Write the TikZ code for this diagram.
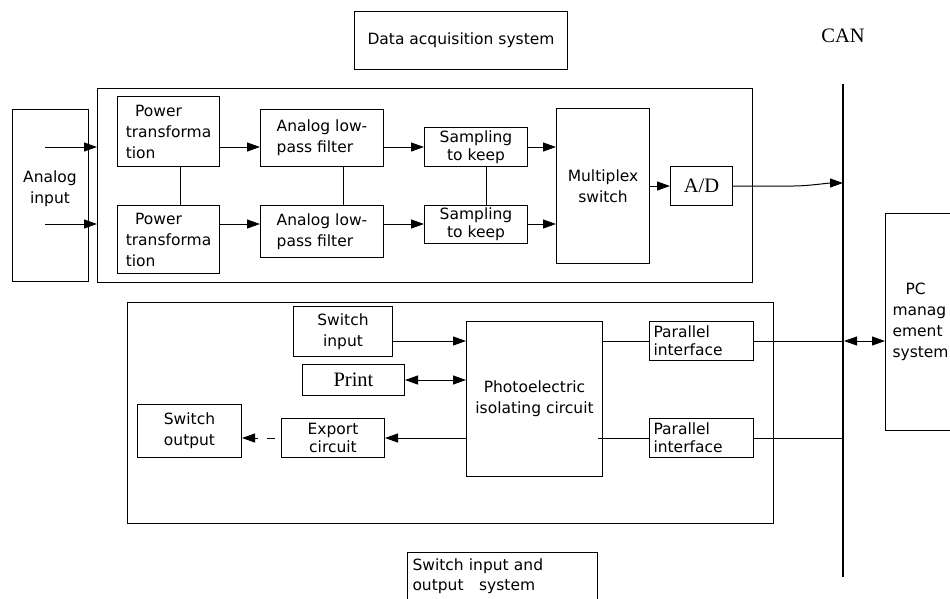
\documentclass[tikz,border=0pt]{standalone}
\usepackage{fontspec}
\setmainfont{DejaVu Sans}
\newfontfamily\timesfont{Liberation Serif}
\usepackage{tikz}
\usetikzlibrary{arrows.meta}
\usetikzlibrary{positioning}
\usetikzlibrary{calc}
\tikzstyle{blk} = [draw, line width=1pt, anchor=north west, inner sep=1pt, font=\fontsize{15.5}{21}\selectfont]
\tikzstyle{frame} = [draw, line width=1pt, anchor=north west, inner sep=0pt]
\tikzstyle{serif} = [font=\timesfont\fontsize{20.5}{22}\selectfont]
\tikzstyle{line} = [line width=1pt]
\tikzstyle{arrow} = [line width=1pt, -{Triangle[length=13pt,width=9pt]}]
\tikzstyle{biarrow} = [line width=1pt, {Triangle[length=13pt,width=9pt]}-{Triangle[length=13pt,width=9pt]}]
\tikzstyle{bus} = [line width=2.6pt]
\begin{document}
\begin{tikzpicture}[x=1pt, y=-1pt]
    \clip (0,0) rectangle (950,598);

    % titles
    \node[blk, minimum width=213, minimum height=58] (acqlbl) at (354,11) {Data acquisition system};
    \node[serif] (can) at (843,36) {CAN};

    % data acquisition part
    \node[frame, minimum width=76, minimum height=172] (ain) at (12,109) {};
    \node[font=\fontsize{15.5}{21}\selectfont, align=center] (aintxt) at (50,189) {Analog\\input};
    \node[frame, minimum width=655, minimum height=194] (acq) at (97,88) {};

    \node[blk, minimum width=102, minimum height=70, align=left] (pt1) at (117,96) {\hspace*{0.6em}Power\\transforma\\tion};
    \node[blk, minimum width=102, minimum height=68, align=left] (pt2) at (117,205) {\hspace*{0.6em}Power\\transforma\\tion};
    \node[blk, minimum width=123, minimum height=57, align=left] (lpf1) at (260,109) {Analog low-\\pass filter};
    \node[blk, minimum width=123, minimum height=52, align=left] (lpf2) at (260,205) {Analog low-\\pass filter};
    \node[blk, minimum width=103, minimum height=39, align=center, inner sep=0pt] (sh1) at (424,127) {Sampling\\[-3pt]to keep};
    \node[blk, minimum width=103, minimum height=38, align=center, inner sep=0pt] (sh2) at (424,205) {Sampling\\[-3pt]to keep};
    \node[blk, minimum width=93, minimum height=155, align=center] (mux) at (556,108) {Multiplex\\switch};
    \node[blk, serif, minimum width=62, minimum height=39] (ad) at (670,166) {A/D};

    \coordinate (in1) at (45,147);
    \coordinate (in2) at (45,224);
    \draw[arrow] (in1) -- (in1 -| acq.west);
    \draw[arrow] (in2) -- (in2 -| acq.west);
    \draw[arrow] (pt1.east |- in1) -- (lpf1.west |- in1);
    \draw[arrow] (pt2.east |- in2) -- (lpf2.west |- in2);
    \draw[arrow] (lpf1.east |- in1) -- (sh1.west |- in1);
    \draw[arrow] (lpf2.east |- in2) -- (sh2.west |- in2);
    \draw[arrow] (sh1.east |- in1) -- (mux.west |- in1);
    \draw[arrow] (sh2.east |- in2) -- (mux.west |- in2);
    \draw[line] ([xshift=12pt]pt1.south) -- ([xshift=12pt]pt2.north);
    \draw[line] ([xshift=21.5pt]lpf1.south) -- ([xshift=21.5pt]lpf2.north);
    \draw[line] ([xshift=10.5pt]sh1.south) -- ([xshift=10.5pt]sh2.north);
    \draw[arrow] (mux.east |- ad) -- (ad.west);

    % CAN bus and PC
    \coordinate (bustop) at (843,84);
    \coordinate (busbot) at (843,577);
    \draw[bus] (bustop) -- (busbot);
    \coordinate (adin) at (843,183);
    \draw[arrow] (ad.east) -- ++(60,0) .. controls +(15,0) and +(-15,0) .. (adin);
    \node[blk, anchor=west, minimum height=217, text width=70, inner sep=7pt, align=left] (pc) at (885,321.5) {\hspace*{13pt}PC\\manag\\ement\\system};

    % switch input and output part
    \node[frame, minimum width=646, minimum height=221] (sio) at (127,302) {};
    \node[blk, minimum width=99, minimum height=50, align=center] (swin) at (293,306) {Switch\\input};
    \node[blk, serif, minimum width=102, minimum height=31] (print) at (302,364) {Print};
    \node[blk, minimum width=104, minimum height=53, align=center] (swout) at (137,404) {Switch\\output};
    \node[blk, minimum width=103, minimum height=39, align=center, inner sep=0pt] (export) at (281,418) {Export\\[-3pt]circuit};
    \node[blk, minimum width=136, minimum height=155, align=center] (photo) at (466,321) {Photoelectric\\isolating circuit};
    \node[blk, minimum width=104, minimum height=39, text width=96, align=left, inner sep=0pt] (pi1) at (649,321) {Parallel\\[-3pt]interface};
    \node[blk, minimum width=104, minimum height=39, text width=96, align=left, inner sep=0pt] (pi2) at (649,418) {Parallel\\[-3pt]interface};

    \draw[arrow] (swin.east |- pi1) -- (photo.west |- pi1);
    \draw[biarrow] (print.east) -- (print.east -| photo.west);
    \draw[arrow] (photo.west |- pi2) -- (export.east);
    \draw[arrow, dash pattern=on 8pt off 9pt, dash phase=-6pt] (export.west) -- (export.west -| swout.east);
    \draw[line] (photo.east |- pi1) -- (pi1.west);
    \draw[line] ([xshift=-5pt]photo.east |- pi2) -- (pi2.west);
    \draw[line] (pi1.east) -- (pi1.east -| bustop);
    \draw[line] (pi2.east) -- (pi2.east -| bustop);
    \draw[biarrow, shorten <=1pt] (bustop |- pi1) -- (pc.west |- pi1);

    \node[blk, minimum width=190, minimum height=48, text width=180, align=left, inner sep=5pt, font=\fontsize{15.5}{20}\selectfont] (siolbl) at (407,552) {Switch input and\\output\ \ \ system};
\end{tikzpicture}
\end{document}
